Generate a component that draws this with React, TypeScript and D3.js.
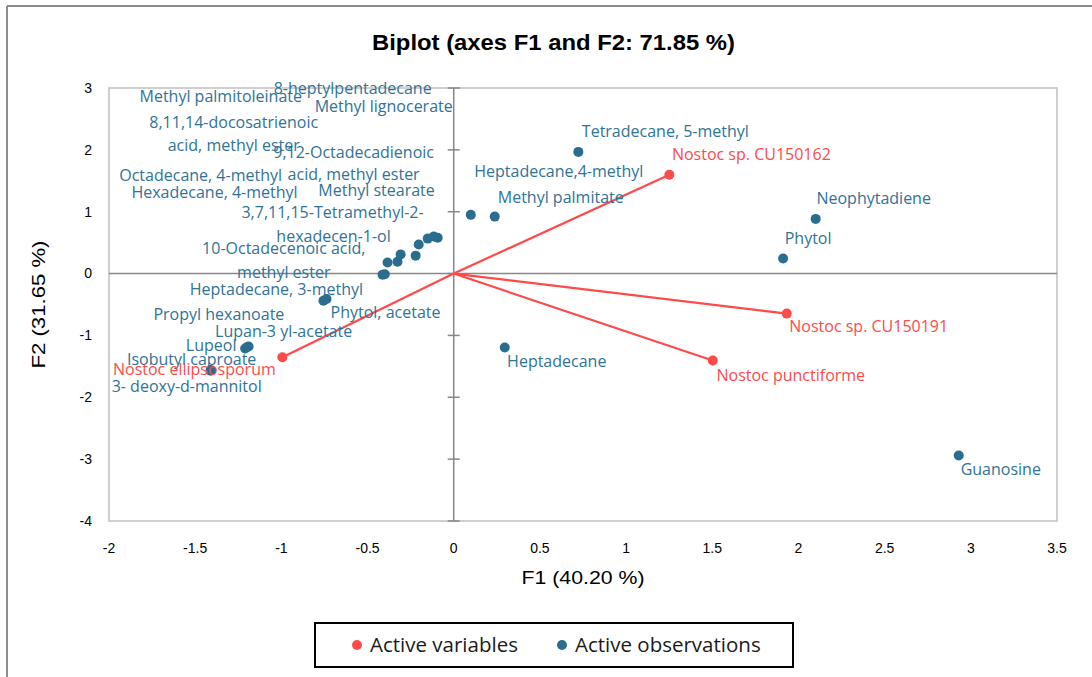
import React from "react";
import * as d3 from "d3";

// ---------- data ----------
const OBS_NAMES = [
  "8-heptylpentadecane",
  "Methyl palmitoleinate",
  "Methyl lignocerate",
  "8,11,14-docosatrienoic acid, methyl ester",
  "9,12-Octadecadienoic acid, methyl ester",
  "Octadecane, 4-methyl",
  "Hexadecane, 4-methyl",
  "Methyl stearate",
  "3,7,11,15-Tetramethyl-2-hexadecen-1-ol",
  "10-Octadecenoic acid, methyl ester",
  "Heptadecane, 3-methyl",
  "Phytol, acetate",
  "Propyl hexanoate",
  "Lupan-3 yl-acetate",
  "Lupeol",
  "Isobutyl caproate",
  "3- deoxy-d-mannitol",
  "Tetradecane, 5-methyl",
  "Heptadecane,4-methyl",
  "Methyl palmitate",
  "Neophytadiene",
  "Phytol",
  "Heptadecane",
  "Guanosine",
];
const OBS_F1 = [-0.093, -0.116, -0.151, -0.203, -0.221, -0.308, -0.326, -0.384, -0.413, -0.4, -0.756, -0.738, -1.2, -1.19, -1.21, -1.41, -1.41, 0.723, 0.099, 0.238, 2.1, 1.911, 0.296, 2.93];
const OBS_F2 = [0.58, 0.6, 0.565, 0.47, 0.29, 0.31, 0.19, 0.18, -0.02, -0.01, -0.44, -0.41, -1.19, -1.18, -1.21, -1.56, -1.57, 1.967, 0.949, 0.921, 0.884, 0.243, -1.196, -2.94];
// label text lines for each observation
const OBS_LABEL_LINES = [
  ["8-heptylpentadecane"],
  ["Methyl palmitoleinate"],
  ["Methyl lignocerate"],
  ["8,11,14-docosatrienoic", "acid, methyl ester"],
  ["9,12-Octadecadienoic", "acid, methyl ester"],
  ["Octadecane, 4-methyl"],
  ["Hexadecane, 4-methyl"],
  ["Methyl stearate"],
  ["3,7,11,15-Tetramethyl-2-", "hexadecen-1-ol"],
  ["10-Octadecenoic acid,", "methyl ester"],
  ["Heptadecane, 3-methyl"],
  ["Phytol, acetate"],
  ["Propyl hexanoate"],
  ["Lupan-3 yl-acetate"],
  ["Lupeol"],
  ["Isobutyl caproate"],
  ["3- deoxy-d-mannitol"],
  ["Tetradecane, 5-methyl"],
  ["Heptadecane,4-methyl"],
  ["Methyl palmitate"],
  ["Neophytadiene"],
  ["Phytol"],
  ["Heptadecane"],
  ["Guanosine"],
];
// label offsets (px) from the point, per line
const OBS_LABEL_OFFSETS = [
  [[-85, -149]],
  [[-213, -140]],
  [[-44, -132]],
  [[-185, -122], [-185, -99]],
  [[-62, -103], [-62, -81]],
  [[-200, -79]],
  [[-183, -69]],
  [[-11, -72]],
  [[-50, -62], [-49, -38]],
  [[-101, -26], [-101, -2]],
  [[-47, -11]],
  [[59, 13]],
  [[-28, -33]],
  [[35, -15]],
  [[-34, -3]],
  [[-19, -11]],
  [[-24, 16]],
  [[87, -20]],
  [[88, -43]],
  [[66, -19]],
  [[58, -20]],
  [[25, -20]],
  [[52, 14]],
  [[42, 14]],
];

const VAR_NAMES = ["Nostoc sp. CU150162", "Nostoc sp. CU150191", "Nostoc punctiforme", "Nostoc ellipsosporum"];
const VAR_F1 = [1.251, 1.932, 1.503, -0.994];
const VAR_F2 = [1.597, -0.647, -1.406, -1.353];
const VAR_LABEL_OFFSETS = [
  [82, -20],
  [82, 13],
  [78, 15],
  [-88, 12],
];

const X_TICKS = [-2, -1.5, -1, -0.5, 0, 0.5, 1, 1.5, 2, 2.5, 3, 3.5];
const Y_TICKS = [3, 2, 1, 0, -1, -2, -3, -4];

const TITLE = "Biplot (axes F1 and F2: 71.85 %)";
const X_TITLE = "F1 (40.20 %)";
const Y_TITLE = "F2 (31.65 %)";
const LEGEND = ["Active variables", "Active observations"];

// ---------- styles ----------
const BLUE = "#2a6d8f";
const BLUE_TEXT = "#2f7398";
const RED = "#ff4a4a";
const AXIS = "#878787";
const LABEL_FONT = "'Open Sans', Lato, sans-serif";
const NARROW = "'Liberation Sans', Arial, sans-serif";

export default function App() {
  const W = 1092;
  const H = 677;
  const x = d3.scaleLinear().domain([-2, 3.5]).range([109, 1057]);
  const y = d3.scaleLinear().domain([-4, 3]).range([521, 88]);
  const fmt = (v: number) => String(v);

  return (
    <svg
      width={W}
      height={H}
      style={{ position: "absolute", left: 0, top: 0, background: "#fff" }}
    >
      <rect x={0} y={0} width={W} height={H} fill="#fff" />
      {/* outer frame */}
      <line x1={7} y1={6} x2={W} y2={6} stroke="#8c8c8c" strokeWidth={2} />
      <line x1={7} y1={6} x2={7} y2={H} stroke="#8c8c8c" strokeWidth={2} />

      {/* title */}
      <text
        x={553.5}
        y={50}
        textAnchor="middle"
        fontFamily={NARROW}
        fontWeight="bold"
        fontSize={22}
        textLength={363}
        lengthAdjust="spacingAndGlyphs"
        fill="#000"
      >
        {TITLE}
      </text>

      {/* plot border */}
      <rect
        x={x(-2)}
        y={y(3)}
        width={x(3.5) - x(-2)}
        height={y(-4) - y(3)}
        fill="none"
        stroke="#c0c0c0"
        strokeWidth={1.5}
      />

      {/* axes through origin */}
      <line x1={x(-2)} x2={x(3.5)} y1={y(0)} y2={y(0)} stroke={AXIS} strokeWidth={1.5} />
      <line x1={x(0)} x2={x(0)} y1={y(3)} y2={y(-4)} stroke={AXIS} strokeWidth={1.5} />
      {Y_TICKS.map((t) => (
        <line key={"yt" + t} x1={x(0) - 6} x2={x(0) + 6} y1={y(t)} y2={y(t)} stroke={AXIS} strokeWidth={1.5} />
      ))}

      {/* tick labels */}
      {Y_TICKS.map((t) => (
        <text
          key={"yl" + t}
          x={92}
          y={y(t)}
          dy="0.35em"
          textAnchor="end"
          fontFamily={NARROW}
          fontSize={14}
          fill="#000"
        >
          {fmt(t)}
        </text>
      ))}
      {X_TICKS.map((t) => (
        <text
          key={"xl" + t}
          x={x(t)}
          y={548}
          dy="0.35em"
          textAnchor="middle"
          fontFamily={NARROW}
          fontSize={14}
          fill="#000"
        >
          {fmt(t)}
        </text>
      ))}

      {/* axis titles */}
      <text
        x={(x(-2) + x(3.5)) / 2}
        y={577}
        dy="0.35em"
        textAnchor="middle"
        fontFamily={NARROW}
        fontSize={19}
        textLength={123}
        lengthAdjust="spacingAndGlyphs"
        fill="#000"
      >
        {X_TITLE}
      </text>
      <text
        transform={`translate(38, ${(y(3) + y(-4)) / 2}) rotate(-90)`}
        dy="0.35em"
        textAnchor="middle"
        fontFamily={NARROW}
        fontSize={19}
        textLength={128}
        lengthAdjust="spacingAndGlyphs"
        fill="#000"
      >
        {Y_TITLE}
      </text>

      {/* variable vectors */}
      {VAR_NAMES.map((n, i) => (
        <line
          key={"vl" + n}
          x1={x(0)}
          y1={y(0)}
          x2={x(VAR_F1[i])}
          y2={y(VAR_F2[i])}
          stroke={RED}
          strokeWidth={2.2}
        />
      ))}

      {/* observations */}
      {OBS_NAMES.map((n, i) => (
        <circle key={"oc" + n} cx={x(OBS_F1[i])} cy={y(OBS_F2[i])} r={5} fill={BLUE} />
      ))}
      {VAR_NAMES.map((n, i) => (
        <circle key={"vc" + n} cx={x(VAR_F1[i])} cy={y(VAR_F2[i])} r={5} fill={RED} />
      ))}

      {/* observation labels */}
      {OBS_NAMES.map((n, i) =>
        OBS_LABEL_LINES[i].map((line, j) => (
          <text
            key={"ot" + n + j}
            x={x(OBS_F1[i]) + OBS_LABEL_OFFSETS[i][j][0]}
            y={y(OBS_F2[i]) + OBS_LABEL_OFFSETS[i][j][1]}
            dy="0.35em"
            textAnchor="middle"
            fontFamily={LABEL_FONT}
            fontSize={16}
            fill={BLUE_TEXT}
          >
            {line}
          </text>
        ))
      )}
      {/* variable labels */}
      {VAR_NAMES.map((n, i) => (
        <text
          key={"vt" + n}
          x={x(VAR_F1[i]) + VAR_LABEL_OFFSETS[i][0]}
          y={y(VAR_F2[i]) + VAR_LABEL_OFFSETS[i][1]}
          dy="0.35em"
          textAnchor="middle"
          fontFamily={LABEL_FONT}
          fontSize={16}
          fill={RED}
        >
          {n}
        </text>
      ))}

      {/* legend */}
      <rect x={315} y={623} width={478} height={44} fill="#fff" stroke="#000" strokeWidth={2} />
      <circle cx={357} cy={645} r={5} fill={RED} />
      <text x={370} y={645} dy="0.35em" fontFamily={LABEL_FONT} fontSize={20.5} fill="#1a1a1a">
        {LEGEND[0]}
      </text>
      <circle cx={562} cy={645} r={5} fill={BLUE} />
      <text x={575} y={645} dy="0.35em" fontFamily={LABEL_FONT} fontSize={20.5} fill="#1a1a1a">
        {LEGEND[1]}
      </text>
    </svg>
  );
}
